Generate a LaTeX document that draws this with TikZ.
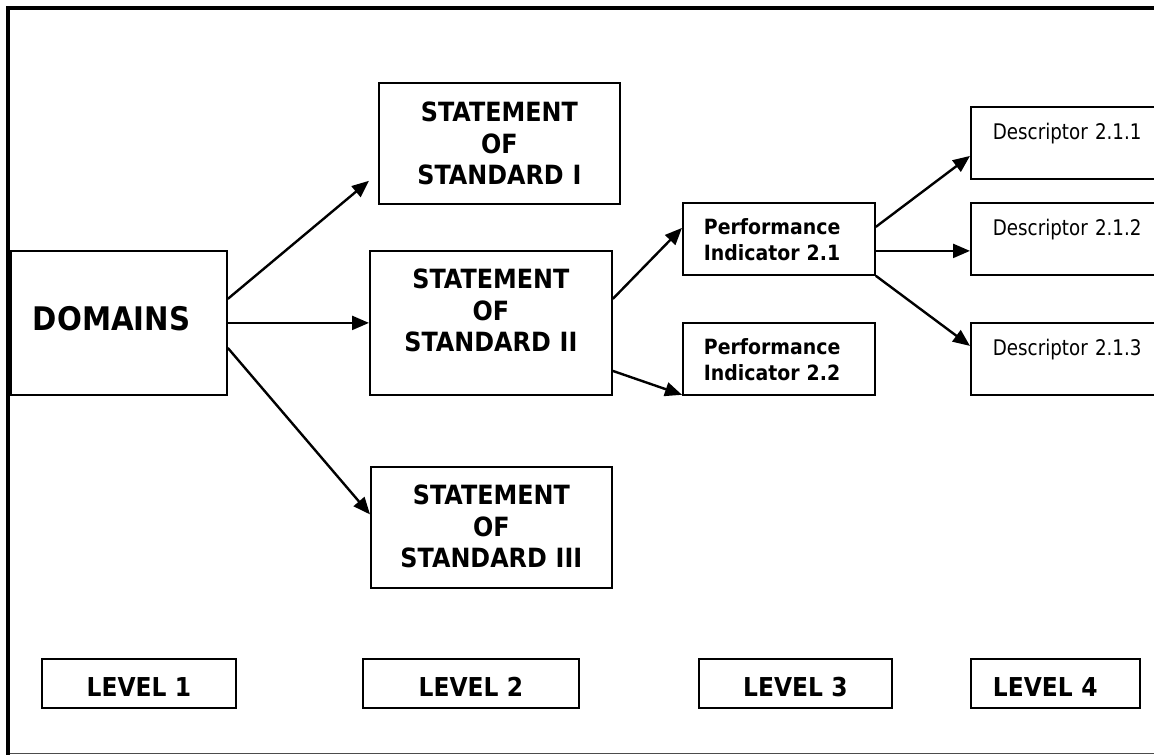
\documentclass[tikz,border=0pt]{standalone}
\usepackage{fontspec}
\setmainfont[FakeStretch=0.9]{DejaVu Sans}
\newfontfamily\descfont[FakeStretch=0.85]{DejaVu Sans}
\usetikzlibrary{arrows.meta}

\begin{document}
\begin{tikzpicture}[x=1pt,y=-1pt,
  box/.style={draw,line width=1.8pt,inner ysep=0pt,anchor=north west,font=\bfseries},
  centerbox/.style={box,inner xsep=5pt,align=center},
  leftbox/.style={box,align=left},
  stmt/.style={centerbox,text width=231pt,font=\bfseries\fontsize{26.5}{31.5}\selectfont},
  perf/.style={leftbox,inner xsep=21pt,text width=150pt,text height=32pt,text depth=40pt,
               font=\bfseries\fontsize{21}{26}\selectfont},
  desc/.style={leftbox,inner xsep=22pt,text width=160pt,text height=33pt,text depth=39pt,
               font=\descfont\fontsize{21.5}{26}\selectfont},
  lvl/.style={box,text height=38pt,text depth=11pt,font=\bfseries\fontsize{26}{31}\selectfont},
  conn/.style={line width=2.4pt,-{Triangle[length=17pt,width=14pt]}}]

\useasboundingbox (0,0) rectangle (1154,755);
\clip (0,0) rectangle (1154,755);

% page frame
\draw[line width=1.5pt,black!70] (8,753.5) -- (1154,753.5);
\draw[line width=4pt] (8,755) -- (8,8) -- (1154,8);

% level 1
\node[leftbox,inner xsep=22pt,text width=172pt,text height=80pt,text depth=64pt,
      font=\bfseries\fontsize{32.5}{38}\selectfont] (dom) at (10,250) {DOMAINS};

% level 2
\node[stmt,text height=39pt,text depth=82pt] (s1) at (378,82) {STATEMENT\\OF\\STANDARD I};
\node[stmt,text width=232pt,text height=38pt,text depth=106pt] (s2) at (369,250) {STATEMENT\\OF\\STANDARD II};
\node[stmt,text height=38pt,text depth=83pt] (s3) at (370,466) {STATEMENT\\OF\\STANDARD III};

% level 3
\node[perf] (p1) at (682,202) {Performance\\Indicator 2.1};
\node[perf] (p2) at (682,322) {Performance\\Indicator 2.2};

% level 4
\node[desc] (d1) at (970,106) {Descriptor 2.1.1};
\node[desc] (d2) at (970,202) {Descriptor 2.1.2};
\node[desc] (d3) at (970,322) {Descriptor 2.1.3};

% level captions
\node[lvl,inner xsep=0pt,minimum width=194pt,align=center] (l1) at (41,658) {LEVEL 1};
\node[lvl,inner xsep=0pt,minimum width=216pt,align=center] (l2) at (362,658) {LEVEL 2};
\node[lvl,inner xsep=0pt,minimum width=193pt,align=center] (l3) at (698,658) {LEVEL 3};
\node[lvl,inner xsep=22pt,text width=125pt,align=left] (l4) at (970,658) {LEVEL 4};

% connectors
\draw[conn] ([yshift=24pt]dom.east) -- ([xshift=-9pt,yshift=24pt]s1.south west);
\draw[conn] (dom.east) -- (s2.west);
\draw[conn] ([yshift=-25pt]dom.east) -- ([yshift=13pt]s3.west);
\draw[conn] ([yshift=24pt]s2.east) -- ([yshift=11pt]p1.west);
\draw[conn] ([yshift=-48pt]s2.east) -- ([yshift=1pt]p2.south west);
\draw[conn] ([yshift=12pt]p1.east) -- ([yshift=-13pt]d1.west);
\draw[conn] ([yshift=-12pt]p1.east) -- ([yshift=-12pt]d2.west);
\draw[conn] (p1.south east) -- ([yshift=13pt]d3.west);
\end{tikzpicture}
\end{document}
